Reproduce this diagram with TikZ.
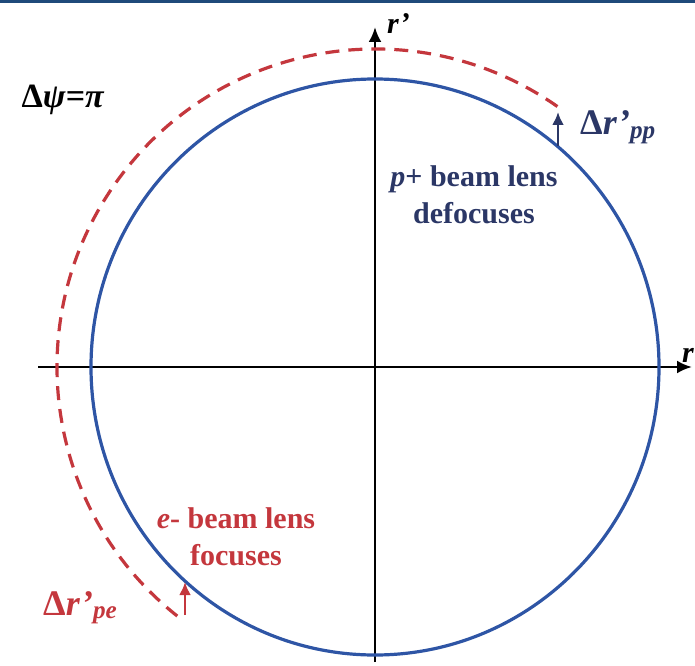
\documentclass[tikz,border=0pt]{standalone}
\usepackage{fontspec}
\setmainfont{Liberation Serif}
\usetikzlibrary{positioning,arrows.meta}
\definecolor{lensblue}{HTML}{2E55A5}
\definecolor{lensnavy}{HTML}{2B3766}
\definecolor{lensred}{HTML}{C4373D}
\definecolor{barblue}{HTML}{1F4A7A}

\begin{document}
\begin{tikzpicture}[x=1pt, y=1pt, >={Latex[length=15pt,width=13pt]},
  every node/.style={font=\bfseries\fontsize{30}{37}\selectfont, align=center, inner sep=0pt},
  axis/.style={->, line width=2.8pt, black},
  orbit/.style={line width=3.2pt, lensblue},
  kicked/.style={line width=3.2pt, lensred, dash pattern=on 14pt off 9pt},
  kick/.style={-{Latex[length=13pt,width=12pt]}, line width=2.6pt},
  kicklabel/.style={font=\bfseries\fontsize{36}{40}\selectfont}]
  \useasboundingbox (0,0) rectangle (695,665);
  \fill[barblue] (0,662) rectangle (695,665);
  % phase space axes
  \coordinate (c) at (375,298);
  \coordinate (rleft) at (38,298);
  \coordinate (rright) at (692,298);
  \coordinate (pbot) at (375,3);
  \coordinate (ptop) at (375,638);
  \draw[axis] (rleft) -- (rright);
  \draw[axis] (pbot) -- (ptop);
  \node[anchor=south west] (rlab) at (682,302) {\textit{r}};
  \node[anchor=base west] (plab) at (387,631) {\textit{r’}};
  % unperturbed and kicked ellipses
  \draw[orbit] (c) circle [x radius=284, y radius=288];
  \draw[kicked] (c) ++(55:318) arc [start angle=55, end angle=232, radius=318];
  % kicks
  \coordinate (ppfoot) at (558,519);
  \coordinate (pphead) at (558,553);
  \draw[kick, lensnavy] (ppfoot) -- (pphead);
  \coordinate (pefoot) at (185,50);
  \coordinate (pehead) at (185,83);
  \draw[kick, lensred] (pefoot) -- (pehead);
  % labels
  \node[font=\bfseries\fontsize{34}{40}\selectfont] (dpsi) at (63,565) {Δ\textit{ψ=π}};
  \node[kicklabel, anchor=base west, lensnavy] (dpp) at (580,530) {Δ\textit{r’}\textsubscript{\textit{pp}}};
  \node[lensnavy] (defoc) at (474,470) {\textit{p}+ beam lens\\defocuses};
  \node[lensred] (foc) at (236,128) {\textit{e}- beam lens\\focuses};
  \node[kicklabel, anchor=base west, lensred] (dpe) at (43,50) {Δ\textit{r’}\textsubscript{\textit{pe}}};
\end{tikzpicture}
\end{document}
